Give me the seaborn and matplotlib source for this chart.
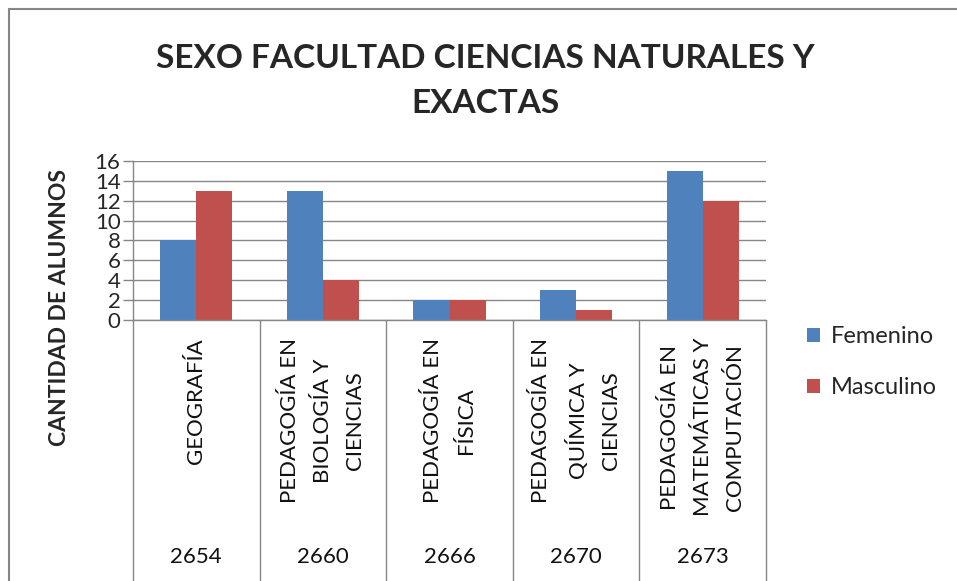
import matplotlib
matplotlib.use("Agg")
import matplotlib.pyplot as plt
import seaborn as sns
import pandas as pd
from matplotlib.transforms import blended_transform_factory
from matplotlib.lines import Line2D

# ---- data ----
codes = ["2654", "2660", "2666", "2670", "2673"]
programs = [
    "GEOGRAFÍA",
    "PEDAGOGÍA EN\nBIOLOGÍA Y\nCIENCIAS",
    "PEDAGOGÍA EN\nFÍSICA",
    "PEDAGOGÍA EN\nQUÍMICA Y\nCIENCIAS",
    "PEDAGOGÍA EN\nMATEMÁTICAS Y\nCOMPUTACIÓN",
]
femenino = [8, 13, 2, 3, 15]
masculino = [13, 4, 2, 1, 12]
series = ["Femenino", "Masculino"]
colors = ["#4F81BD", "#C0504D"]
title_lines = ["SEXO FACULTAD CIENCIAS NATURALES Y", "EXACTAS"]
y_label = "CANTIDAD DE ALUMNOS"
y_ticks = [0, 2, 4, 6, 8, 10, 12, 14, 16]

df = pd.DataFrame({
    "code": codes * 2,
    "sexo": [series[0]] * len(codes) + [series[1]] * len(codes),
    "valor": femenino + masculino,
})

sns.set_style("white")
plt.rcParams["font.family"] = ["Lato", "DejaVu Sans"]

W, H = 957, 581
fig = plt.figure(figsize=(W / 100, H / 100), dpi=100)

# outer chart border
fig.add_artist(Line2D([9 / W, 9 / W], [0, 1 - 9 / H], transform=fig.transFigure, color="#868686", lw=1.5))
fig.add_artist(Line2D([9 / W, 1], [1 - 9 / H, 1 - 9 / H], transform=fig.transFigure, color="#868686", lw=1.5))

x0, x1, ytop, ybot = 133, 766, 161, 320
ax = fig.add_axes([x0 / W, 1 - ybot / H, (x1 - x0) / W, (ybot - ytop) / H])

sns.barplot(data=df, x="code", y="valor", hue="sexo", order=codes, hue_order=series,
            palette=colors, saturation=1, width=0.57, ax=ax, linewidth=0, errorbar=None)

ax.set_xlim(-0.5, len(codes) - 0.5)
ax.set_ylim(0, 16)
ax.set_yticks(y_ticks)
ax.set_yticklabels([str(t) for t in y_ticks], fontsize=16)
ax.set_xticks([])
ax.set_xlabel("")
ax.set_ylabel("")
ax.yaxis.grid(True, color="#868686", lw=1)
ax.set_axisbelow(True)
for s in ["top", "right"]:
    ax.spines[s].set_visible(False)
for s in ["left", "bottom"]:
    ax.spines[s].set_color("#868686")
    ax.spines[s].set_linewidth(1)
ax.tick_params(axis="y", length=7, width=1, color="#868686", pad=2, left=True)

# category axis: separators, program names, codes
tr = blended_transform_factory(ax.transData, ax.transAxes)
hpx = ybot - ytop
ybottom_ax = -(H - ybot) / hpx
for i in range(len(codes) + 1):
    ax.add_line(Line2D([i - 0.5, i - 0.5], [0, ybottom_ax], transform=tr, color="#868686", lw=1, clip_on=False))
for i, (p, c) in enumerate(zip(programs, codes)):
    ax.text(i, -(338 - ybot) / hpx, p, transform=tr, rotation=90, ha="center", va="top",
            multialignment="center", fontsize=16, linespacing=1.78, color="#111111")
    ax.text(i, -(557 - ybot) / hpx, c, transform=tr, ha="center", va="center", fontsize=16, color="#111111")

# legend
leg = ax.legend(loc="upper left", bbox_to_anchor=(807 / W, 1 - 326 / H), bbox_transform=fig.transFigure,
                frameon=False, fontsize=17, handlelength=0.55, handleheight=0.55, handletextpad=0.45,
                labelspacing=1.28, borderpad=0, borderaxespad=0)

# title and y label
fig.text(485 / W, 1 - 58 / H, title_lines[0], ha="center", va="center", fontsize=24, fontweight="bold")
fig.text(485 / W, 1 - 104 / H, title_lines[1], ha="center", va="center", fontsize=24, fontweight="bold")
fig.text(60 / W, 1 - 307 / H, y_label, rotation=90, ha="center", va="center", fontsize=16.5, fontweight="bold")

fig.savefig("out.png", dpi=100)
